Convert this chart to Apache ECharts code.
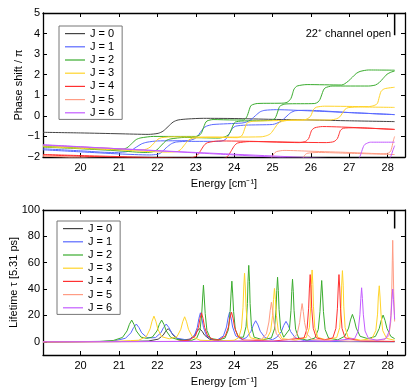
<!DOCTYPE html>
<html>
<head>
<meta charset="utf-8">
<script src="https://cdn.jsdelivr.net/npm/echarts@6/dist/echarts.min.js"></script>
<style>
  html, body { margin: 0; padding: 0; background: #fff; }
  #main { width: 415px; height: 391px; }
</style>
</head>
<body>
<div id="main"></div>
<script>
// legend / colours
const jNames = ['J = 0', 'J = 1', 'J = 2', 'J = 3', 'J = 4', 'J = 5', 'J = 6'];
const jColors = ['#444444', '#5868ff', '#3aac2e', '#ffd42a', '#ff3030', '#ff9c84', '#c35cff'];

const energyTicks = [20, 21, 22, 23, 24, 25, 26, 27, 28];
const lifetimeTicks = [0, 20, 40, 60, 80, 100];
const thresholdEnergy = 28.18;   // 22+ channel opens here

// phase shift / pi (branches per J)
const phaseJ0 = [[19.02,-0.8],[20,-0.83],[21,-0.87],[21.76,-0.9],[22.02,-0.85],[22.15,-0.74],[22.28,-0.52],[22.41,-0.3],[22.54,-0.2],[22.8,-0.15],[23.2,-0.12],[24,-0.13],[25,-0.17],[26,-0.2],[27,-0.24],[28.18,-0.28]];
const phaseJ1a = [[19.02,-1.6],[20,-1.7],[20.8,-1.78],[21.17,-1.75],[21.31,-1.68],[21.45,-1.52],[21.59,-1.36],[21.73,-1.28],[22,-1.22],[22.8,-1.2],[22.96,-1.12],[23.04,-1.0],[23.12,-0.8],[23.2,-0.6],[23.28,-0.5],[23.45,-0.42],[24.2,-0.35],[24.32,-0.3],[24.44,-0.18],[24.56,0.02],[24.68,0.2],[24.8,0.27],[25.1,0.3],[26,0.24],[27,0.16],[28.18,0.06]];
const phaseJ1b = [[19.02,-1.65],[20,-1.75],[21,-1.85],[21.8,-1.9],[22.0,-1.87],[22.09,-1.8],[22.23,-1.55],[22.37,-1.35],[22.5,-1.27],[22.8,-1.24],[23.6,-1.24],[23.72,-1.2],[23.8,-1.1],[23.88,-0.85],[23.96,-0.6],[24.04,-0.5],[24.3,-0.45],[25.0,-0.42],[25.11,-0.36],[25.23,-0.25],[25.35,-0.05],[25.47,0.15],[25.6,0.25],[25.9,0.27],[27,0.16],[28.18,0.06]];
const phaseJ2a = [[19.02,-1.48],[20,-1.56],[20.8,-1.64],[21.09,-1.62],[21.21,-1.55],[21.33,-1.35],[21.45,-1.15],[21.57,-1.07],[21.9,-1.0],[23.0,-1.0],[23.11,-0.92],[23.155,-0.8],[23.2,-0.58],[23.245,-0.36],[23.29,-0.25],[23.45,-0.18],[24.0,-0.2],[24.24,-0.2],[24.31,-0.1],[24.345,0.02],[24.38,0.22],[24.415,0.42],[24.45,0.52],[24.6,0.6],[25.3,0.62],[25.4,0.68],[25.48,0.85],[25.52,1.07],[25.56,1.3],[25.64,1.45],[25.9,1.52],[26.8,1.5],[26.88,1.56],[26.98,1.7],[27.08,1.88],[27.18,2.06],[27.28,2.16],[27.5,2.23],[28.18,2.22]];
const phaseJ2b = [[19.02,-1.52],[20,-1.6],[21,-1.7],[21.7,-1.78],[21.87,-1.75],[21.99,-1.65],[22.11,-1.42],[22.23,-1.2],[22.35,-1.12],[22.7,-1.05],[23.6,-1.08],[23.76,-1.02],[23.85,-0.92],[23.895,-0.8],[23.94,-0.6],[23.985,-0.4],[24.03,-0.3],[24.2,-0.25],[24.95,-0.22],[25.05,-0.15],[25.09,-0.03],[25.13,0.18],[25.17,0.4],[25.21,0.5],[25.35,0.58],[26.1,0.6],[26.19,0.68],[26.235,0.8],[26.28,1.02],[26.325,1.25],[26.37,1.36],[26.55,1.45],[27.5,1.45],[27.68,1.5],[27.78,1.62],[27.88,1.82],[27.98,2.02],[28.08,2.12],[28.18,2.18]];
const phaseJ3a = [[19.02,-1.44],[20,-1.52],[21,-1.6],[21.51,-1.66],[21.71,-1.62],[21.81,-1.52],[21.91,-1.33],[22.01,-1.14],[22.11,-1.06],[22.4,-1.02],[23.5,-1.04],[24.08,-1.06],[24.19,-0.98],[24.23,-0.86],[24.27,-0.65],[24.31,-0.44],[24.35,-0.33],[24.5,-0.26],[25.8,-0.2],[25.9,-0.15],[25.99,-0.02],[26.03,0.15],[26.07,0.32],[26.14,0.42],[26.35,0.47],[27.5,0.45],[27.64,0.5],[27.73,0.6],[27.78,0.92],[27.83,1.2],[27.92,1.32],[28.18,1.39]];
const phaseJ3b = [[19.02,-1.5],[20,-1.58],[21,-1.66],[22.2,-1.76],[22.51,-1.74],[22.61,-1.63],[22.71,-1.4],[22.81,-1.18],[22.91,-1.09],[23.3,-1.04],[24.7,-1.02],[24.85,-0.96],[24.95,-0.86],[25.05,-0.61],[25.15,-0.36],[25.25,-0.27],[25.5,-0.2],[26.5,-0.2],[26.67,-0.14],[26.75,-0.05],[26.82,0.13],[26.89,0.32],[26.97,0.4],[27.3,0.43],[28.18,0.41]];
const phaseJ4a = [[19.02,-1.88],[20,-1.93],[21,-1.98],[22,-2.03],[22.83,-2.05],[22.99,-1.98],[23.07,-1.85],[23.15,-1.62],[23.23,-1.4],[23.31,-1.3],[23.6,-1.22],[24.5,-1.24],[25.7,-1.3],[25.86,-1.24],[25.94,-1.1],[25.98,-0.9],[26.02,-0.7],[26.1,-0.58],[26.3,-0.52],[27.3,-0.58],[28.18,-0.66]];
const phaseJ4b = [[19.02,-1.9],[20,-1.96],[21,-2.01],[23.5,-2.1],[23.77,-2.05],[23.85,-1.92],[23.93,-1.68],[24.01,-1.44],[24.09,-1.32],[24.4,-1.25],[26.4,-1.3],[26.6,-1.25],[26.69,-1.1],[26.73,-0.9],[26.77,-0.7],[26.85,-0.6],[27.1,-0.58],[28.18,-0.66]];
const phaseJ5a = [[19.02,-1.94],[20,-2.02],[22,-2.2],[24.6,-2.45],[24.84,-2.4],[24.905,-2.28],[24.97,-2.06],[25.035,-1.84],[25.1,-1.74],[25.3,-1.68],[26,-1.72],[27,-1.78],[27.9,-1.84],[28.03,-1.8],[28.08,-1.7],[28.105,-1.55],[28.13,-1.35],[28.155,-1.15],[28.18,-1.0]];
const phaseJ5b = [[19.02,-1.96],[20,-2.05],[22,-2.25],[25.4,-2.55],[25.64,-2.48],[25.705,-2.36],[25.77,-2.14],[25.835,-1.92],[25.9,-1.82],[26.2,-1.78],[27,-1.82],[28.18,-1.88]];
const phaseJ6a = [[19.02,-1.4],[20,-1.5],[21,-1.6],[22,-1.7],[23,-1.8],[24,-1.9],[25,-2.0],[26,-2.1],[27.14,-2.2],[27.23,-2.1],[27.275,-1.98],[27.32,-1.74],[27.365,-1.5],[27.41,-1.38],[27.55,-1.28],[28.18,-1.28]];
const phaseJ6b = [[19.02,-1.42],[21,-1.6],[23,-1.78],[25,-1.95],[27,-2.12],[27.95,-2.2],[28.04,-2.1],[28.085,-1.95],[28.13,-1.7],[28.18,-1.45]];

// lifetime in units of 5.31 ps
const lifeJ0 = [[19.02,0],[21.0,0.2],[21.76,0.6],[22.02,2],[22.15,5],[22.215,8],[22.28,10],[22.345,8],[22.41,5],[22.54,2],[22.69,1.5],[22.84,2],[22.97,5],[23.035,8],[23.1,10],[23.165,8],[23.23,5],[23.36,2],[23.62,0.7],[24.2,0.3],[28.18,0.1]];
const lifeJ1 = [[19.02,0],[20.6,0.3],[20.89,0.8],[21.17,2.7],[21.31,6.8],[21.38,10.8],[21.45,13.5],[21.52,10.8],[21.59,6.8],[21.73,3.2],[21.84,3],[21.95,3.2],[22.09,6.8],[22.16,10.8],[22.23,13.5],[22.3,10.8],[22.37,6.8],[22.51,2.7],[22.8,1.3],[22.96,4.4],[23.04,11],[23.08,17.6],[23.12,22],[23.16,17.6],[23.2,11],[23.28,4.4],[23.44,1.4],[23.56,1.4],[23.72,4.5],[23.8,11.2],[23.84,18],[23.88,22.5],[23.92,18],[23.96,11.2],[24.04,4.5],[24.2,1.8],[24.32,3.2],[24.44,8],[24.5,12.8],[24.56,16],[24.62,12.8],[24.68,8],[24.8,3.2],[25.0,1.6],[25.11,3.5],[25.23,7.8],[25.29,12.4],[25.35,15.5],[25.41,12.4],[25.47,7.8],[25.59,3.1],[25.83,0.9],[26.5,0.3],[28.18,0.1]];
const lifeJ2 = [[19.02,0],[20.5,0.3],[20.85,1],[21.09,3.3],[21.21,8.3],[21.27,13.2],[21.33,16.5],[21.39,13.2],[21.45,8.3],[21.57,3.6],[21.72,2.6],[21.87,3.6],[21.99,8.3],[22.05,13.2],[22.11,16.5],[22.17,13.2],[22.23,8.3],[22.35,3.3],[22.59,1.2],[22.9,1.2],[23.02,2.6],[23.11,8.6],[23.155,21.5],[23.18,34],[23.2,43],[23.22,34],[23.245,21.5],[23.29,8.6],[23.38,2.6],[23.6,1.5],[23.76,2.8],[23.85,9.2],[23.895,23],[23.92,37],[23.94,46],[23.96,37],[23.985,23],[24.03,9.2],[24.12,3.5],[24.24,3.5],[24.31,11.6],[24.345,29],[24.36,46],[24.38,58],[24.4,46],[24.415,29],[24.45,11.6],[24.52,3.5],[24.75,1.5],[24.97,3],[25.05,9.8],[25.09,24.5],[25.11,39],[25.13,49],[25.15,39],[25.17,24.5],[25.21,9.8],[25.29,3.5],[25.33,3.8],[25.44,9.5],[25.48,23.8],[25.5,38],[25.52,47.5],[25.54,38],[25.56,23.8],[25.6,9.5],[25.68,2.9],[25.9,1.2],[26.1,2.8],[26.19,9.3],[26.235,23],[26.26,37],[26.28,46.5],[26.3,37],[26.325,23],[26.37,9.3],[26.46,2.8],[26.7,1.5],[26.88,4.2],[26.98,10.4],[27.03,16.6],[27.08,20.8],[27.13,16.6],[27.18,10.4],[27.28,4.2],[27.48,2.4],[27.68,4.1],[27.78,10.2],[27.83,16.2],[27.88,20.3],[27.93,16.2],[27.98,10.2],[28.08,4.1],[28.18,2.4]];
const lifeJ3 = [[19.02,0],[20.8,0.3],[21.3,0.9],[21.51,1.2],[21.71,3.9],[21.81,9.8],[21.86,15.6],[21.91,19.5],[21.96,15.6],[22.01,9.8],[22.11,3.9],[22.31,2.3],[22.51,3.9],[22.61,9.5],[22.66,15.2],[22.71,19],[22.76,15.2],[22.81,9.5],[22.91,3.8],[23.11,1.2],[23.6,0.6],[24.0,1.2],[24.12,3.1],[24.19,10.4],[24.23,26],[24.25,41.6],[24.27,52],[24.29,41.6],[24.31,26],[24.35,10.4],[24.42,3.1],[24.65,1.5],[24.85,2.4],[24.95,8.1],[25.0,20],[25.025,32],[25.05,40.5],[25.075,32],[25.1,20],[25.15,8.1],[25.25,2.4],[25.6,1.2],[25.88,3.3],[25.96,10.9],[25.995,27],[26.01,43.6],[26.03,54.5],[26.05,43.6],[26.065,27],[26.1,10.9],[26.18,3.3],[26.4,1.5],[26.67,3.2],[26.75,10.8],[26.785,27],[26.8,43],[26.82,54],[26.84,43],[26.855,27],[26.89,10.8],[26.97,3.2],[27.3,1.2],[27.59,2.6],[27.69,8.5],[27.735,21],[27.755,34],[27.78,42.5],[27.8,34],[27.825,21],[27.87,8.5],[27.97,2.6],[28.18,1.2]];
const lifeJ4 = [[19.02,0],[22.5,0.3],[22.83,1.3],[22.99,4.4],[23.07,11],[23.11,17.6],[23.15,22],[23.19,17.6],[23.23,11],[23.31,4.4],[23.47,1.5],[23.61,1.5],[23.77,4.5],[23.85,11.2],[23.89,18],[23.93,22.5],[23.97,18],[24.01,11.2],[24.09,4.5],[24.25,1.3],[25,0.5],[25.82,3],[25.9,10.2],[25.94,25.5],[25.96,40.8],[25.98,51],[26.0,40.8],[26.02,25.5],[26.06,10.2],[26.14,3],[26.35,1.5],[26.57,3],[26.65,10.2],[26.69,25.5],[26.71,40.8],[26.73,51],[26.75,40.8],[26.77,25.5],[26.81,10.2],[26.89,3],[27.3,0.6],[28.18,0.3]];
const lifeJ5 = [[19.02,0],[24.0,0.4],[24.71,1.8],[24.84,6],[24.905,15],[24.94,24],[24.97,30],[25.0,24],[25.035,15],[25.1,6],[25.23,1.8],[25.37,1.6],[25.51,1.8],[25.64,5.8],[25.705,14.5],[25.74,23],[25.77,29],[25.8,23],[25.835,14.5],[25.9,5.8],[26.03,1.7],[27,0.5],[27.9,1.5],[28.03,4.6],[28.08,15.4],[28.105,38.5],[28.12,62],[28.13,77],[28.14,62],[28.155,38.5],[28.18,15.4]];
const lifeJ6 = [[19.02,0],[26.5,0.5],[27.14,2.5],[27.23,8.2],[27.275,20.5],[27.3,33],[27.32,41],[27.34,33],[27.365,20.5],[27.41,8.2],[27.5,2.5],[27.72,1.2],[27.95,2.4],[28.04,8],[28.085,20],[28.11,32],[28.13,40],[28.15,32],[28.175,20],[28.18,17]];

const phaseByJ = [[phaseJ0], [phaseJ1a, phaseJ1b], [phaseJ2a, phaseJ2b], [phaseJ3a, phaseJ3b],
                  [phaseJ4a, phaseJ4b], [phaseJ5a, phaseJ5b], [phaseJ6a, phaseJ6b]];
const lifeByJ = [lifeJ0, lifeJ1, lifeJ2, lifeJ3, lifeJ4, lifeJ5, lifeJ6];

const font = 'Liberation Sans, Arial, Helvetica, sans-serif';
const minus = v => String(v).replace('-', '\u2212');

function xAx(grid, pos, withLabels) {
  return {
    type: 'value', gridIndex: grid, position: pos, min: 19.02, max: 28.45,
    axisLine: { onZero: false, lineStyle: { color: '#000', width: 1.3 } },
    axisTick: { inside: true, length: 4, customValues: energyTicks, lineStyle: { color: '#000', width: 1 } },
    axisLabel: { show: withLabels, customValues: energyTicks, color: '#000', fontSize: 11, fontFamily: font, margin: 5 },
    splitLine: { show: false },
    name: withLabels ? 'Energy [cm\u207B\u00B9]' : '',
    nameLocation: 'middle', nameGap: 21,
    nameTextStyle: { color: '#000', fontSize: 11, fontFamily: font }
  };
}
function yAx(grid, pos, min, max, ticks, name, gap) {
  return {
    type: 'value', gridIndex: grid, position: pos, min: min, max: max,
    axisLine: { show: true, onZero: false, lineStyle: { color: '#000', width: 1.3 } },
    axisTick: { show: true, inside: true, length: 4, customValues: ticks, lineStyle: { color: '#000', width: 1 } },
    axisLabel: { show: pos === 'left', customValues: ticks, formatter: minus, color: '#000', fontSize: 11, fontFamily: font, margin: 3 },
    splitLine: { show: false },
    name: pos === 'left' ? name : '',
    nameLocation: 'middle', nameGap: gap, nameMoveOverlap: false,
    nameTextStyle: { color: '#000', fontSize: 11, fontFamily: font }
  };
}

const series = [];
jNames.forEach((nm, j) => {
  phaseByJ[j].forEach(branch => {
    series.push({
      type: 'line', name: nm, xAxisIndex: 0, yAxisIndex: 0, data: branch,
      showSymbol: false, symbol: 'none', smooth: 0.25, clip: true,
      color: jColors[j], lineStyle: { color: jColors[j], width: 1 }
    });
  });
});
jNames.forEach((nm, j) => {
  series.push({
    type: 'line', name: nm, xAxisIndex: 2, yAxisIndex: 2, data: lifeByJ[j],
    showSymbol: false, symbol: 'none', clip: true,
    color: jColors[j], lineStyle: { color: jColors[j], width: 1 }
  });
});
// threshold markers
series.push({ type: 'line', name: 'threshold', xAxisIndex: 0, yAxisIndex: 0, symbol: 'none',
  data: [[thresholdEnergy, 3.92], [thresholdEnergy, 5]], lineStyle: { color: '#000', width: 1.5 } });
series.push({ type: 'line', name: 'threshold', xAxisIndex: 2, yAxisIndex: 2, symbol: 'none',
  data: [[thresholdEnergy, 86], [thresholdEnergy, 100]], lineStyle: { color: '#000', width: 1.5 } });

function legendAt(left, top) {
  return {
    data: jNames, orient: 'vertical', left: left, top: top,
    icon: 'rect', itemWidth: 20, itemHeight: 1.2, itemGap: 0,
    padding: [1, 8, 0, 6], borderColor: '#777', borderWidth: 1, backgroundColor: '#fff',
    textStyle: { color: '#000', fontSize: 11, fontFamily: font, lineHeight: 13.2 },
    selectedMode: false
  };
}

const chart = echarts.init(document.getElementById('main'), null, { renderer: 'canvas' });
chart.setOption({
  animation: false,
  backgroundColor: '#fff',
  textStyle: { fontFamily: font },
  title: {
    text: '22\u207A channel open', right: 24, top: 28, padding: 0,
    textStyle: { color: '#000', fontSize: 11, fontWeight: 'normal', fontFamily: font }
  },
  grid: [
    { left: 43, right: 10, top: 13, height: 144, outerBoundsMode: 'none' },
    { left: 43, right: 10, top: 210, height: 145, outerBoundsMode: 'none' }
  ],
  legend: [legendAt(59, 26), legendAt(57, 221)],
  xAxis: [xAx(0, 'bottom', true), xAx(0, 'top', false), xAx(1, 'bottom', true), xAx(1, 'top', false)],
  yAxis: [
    yAx(0, 'left', -2, 5, [-2, -1, 0, 1, 2, 3, 4, 5], 'Phase shift / \u03C0', 19),
    yAx(0, 'right', -2, 5, [-2, -1, 0, 1, 2, 3, 4, 5], '', 0),
    yAx(1, 'left', -10, 100, lifetimeTicks, 'Lifetime \u03C4 [5.31 ps]', 24),
    yAx(1, 'right', -10, 100, lifetimeTicks, '', 0)
  ],
  series: series
});
</script>
</body>
</html>
